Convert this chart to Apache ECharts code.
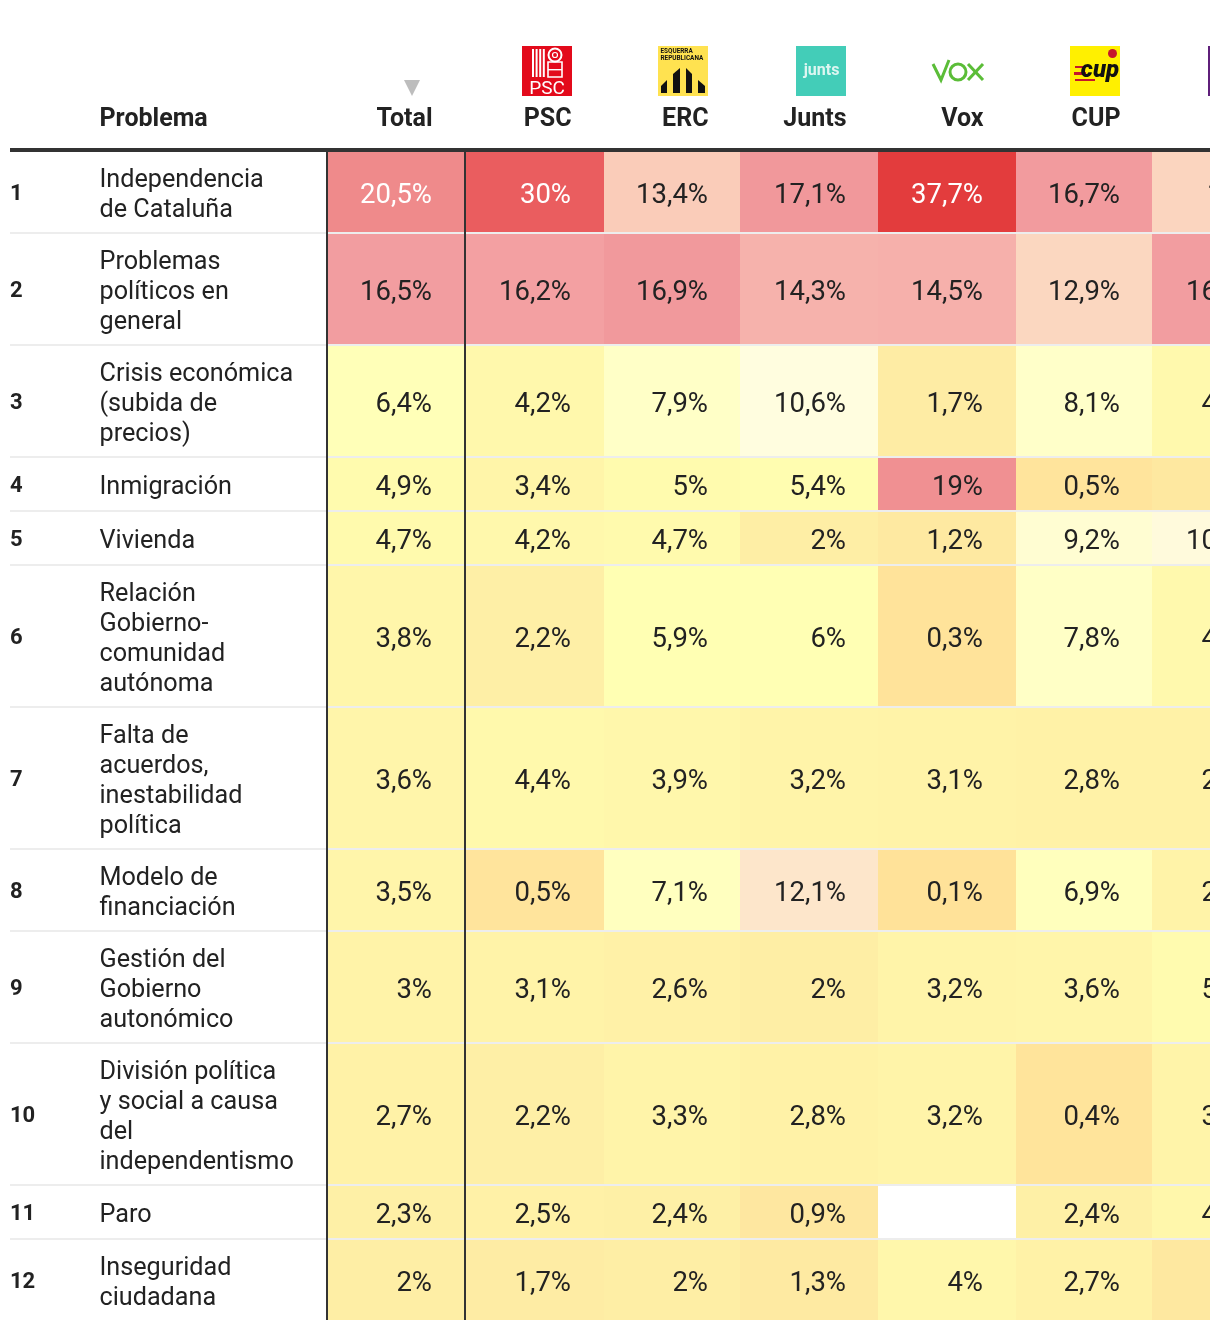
<!DOCTYPE html>
<html><head><meta charset="utf-8">
<style>html,body{margin:0;padding:0;background:#fff}#c{width:1220px;height:1332px}</style>
<script src="https://cdn.jsdelivr.net/npm/echarts@6/dist/echarts.min.js"></script>
</head><body><div id="c"></div>
<script>
// ---- data ----
const problems = ['Independencia\nde Cataluña','Problemas\npolíticos en\ngeneral','Crisis económica\n(subida de\nprecios)','Inmigración','Vivienda','Relación\nGobierno-\ncomunidad\nautónoma','Falta de\nacuerdos,\ninestabilidad\npolítica','Modelo de\nfinanciación','Gestión del\nGobierno\nautonómico','División política\ny social a causa\ndel\nindependentismo','Paro','Inseguridad\nciudadana'];
const columns = ['Total','PSC','ERC','Junts','Vox','CUP',''];
const total = [20.5,16.5,6.4,4.9,4.7,3.8,3.6,3.5,3,2.7,2.3,2];
const psc   = [30,16.2,4.2,3.4,4.2,2.2,4.4,0.5,3.1,2.2,2.5,1.7];
const erc   = [13.4,16.9,7.9,5,4.7,5.9,3.9,7.1,2.6,3.3,2.4,2];
const junts = [17.1,14.3,10.6,5.4,2,6,3.2,12.1,2,2.8,0.9,1.3];
const vox   = [37.7,14.5,1.7,19,1.2,0.3,3.1,0.1,3.2,3.2,null,4];
const cup   = [16.7,12.9,8.1,0.5,9.2,7.8,2.8,6.9,3.6,0.4,2.4,2.7];
const other = [13,16.5,4.5,1,10.8,4.5,2.8,2.9,5.1,3.2,4.1,1];
const tableValues = [total,psc,erc,junts,vox,cup,other];

// ---- colour scale: value -> colour ----
const scaleValues = [0,0.5,0.9,2,3,4,5,6,7.1,8,9.2,10.6,12.1,12.9,13.4,14.3,16.5,17,20.5,30,37.7];
const scaleColors = ['#FFE298','#FFE49C','#FEE7A0','#FEEEA5','#FFF3A8','#FFF7AB','#FFFBAE','#FFFFB4','#FFFFBF','#FFFFC8','#FFFDD2','#FFFDDF','#FDE6CB','#FBD7C0','#FACCB9','#F6B2AC','#F29DA0','#F1989B','#EF8A8B','#EA5D5F','#E33C3D'];

// ---- layout ----
const FONT = 'Roboto';
const INK = '#222';
const tableTop = 152;
const colEdges = [328,466,604,740,878,1016,1152,1290];
const colText  = [432,571,708,846,983,1120,1258];
const rowTops = [tableTop];
problems.forEach(p => {
  const lines = p.split('\n').length;
  rowTops.push(rowTops[rowTops.length-1] + Math.max(54, 30*lines + 22));
});
function colorOf(v){
  for(let i=1;i<scaleValues.length;i++){
    if(v<=scaleValues[i]){
      const t=(v-scaleValues[i-1])/(scaleValues[i]-scaleValues[i-1]);
      return echarts.color.lerp(t,[scaleColors[i-1],scaleColors[i]]);
    }
  }
  return scaleColors[scaleColors.length-1];
}
const cellData=[];
tableValues.forEach((arr,c)=>arr.forEach((v,r)=>cellData.push([c,r,v])));
const rowData = problems.map((p,i)=>[i,p]);
const fmt = v => String(v).replace('.',',')+'%';

const chart = echarts.init(document.getElementById('c'),null,{renderer:'canvas'});
chart.setOption({
  animation:false,
  backgroundColor:'#fff',
  grid:{left:0,top:0,width:1210,height:1332},
  xAxis:{type:'value',min:0,max:1210,show:false},
  yAxis:{type:'value',min:0,max:1332,inverse:true,show:false},
  series:[
    {type:'custom',clip:true,coordinateSystem:'cartesian2d',z:1,data:cellData,encode:{x:0,y:1},
     renderItem(params,api){
       const c=api.value(0), r=api.value(1), v=cellData[params.dataIndex][2];
       const a=api.coord([colEdges[c],rowTops[r]]), b=api.coord([colEdges[c+1],rowTops[r+1]-2]);
       const children=[];
       if(v!=null){
         children.push({type:'rect',shape:{x:a[0],y:a[1],width:b[0]-a[0],height:b[1]-a[1]},style:{fill:colorOf(v)}});
         children.push({type:'text',style:{text:fmt(v),x:api.coord([colText[c],0])[0],y:(a[1]+b[1])/2+4,align:'right',verticalAlign:'middle',font:'400 27.5px '+FONT,fill:v>=20?'#fff':INK}});
       }
       return {type:'group',children};
     }},
    {type:'custom',clip:true,coordinateSystem:'cartesian2d',z:2,data:rowData,encode:{x:0,y:0},
     renderItem(params,api){
       const r=params.dataIndex, p=problems[r];
       const top=rowTops[r], bot=rowTops[r+1];
       const left=api.coord([10,0])[0], right=api.coord([1210,0])[0];
       const yBot=api.coord([0,bot])[1], yC=api.coord([0,(top+bot-2)/2])[1];
       return {type:'group',children:[
         {type:'rect',shape:{x:left,y:yBot-2,width:right-left,height:2},style:{fill:'rgba(0,0,0,0.07)'},silent:true,ignore:r===problems.length-1},
         {type:'text',style:{text:String(r+1),x:left,y:yC+2.5,verticalAlign:'middle',font:'700 22px '+FONT,fill:INK}},
         {type:'text',style:{text:p,x:api.coord([99.5,0])[0],y:yC+3.5,verticalAlign:'middle',font:'400 25.2px '+FONT,lineHeight:30,fill:INK}}
       ]};
     }}
  ],
  graphic:[
    {type:'rect',z:10,shape:{x:10,y:148,width:1200,height:4},style:{fill:'#333'}},
    {type:'rect',z:10,shape:{x:326,y:152,width:2,height:1168},style:{fill:'#333'}},
    {type:'rect',z:10,shape:{x:464,y:152,width:2,height:1168},style:{fill:'#333'}},
    {type:'text',z:10,style:{text:'Problema',x:99.5,y:120,verticalAlign:'middle',font:'700 25px '+FONT,fill:INK}},
    ...columns.slice(0,6).map((t,i)=>({type:'text',z:10,style:{text:t,x:colText[i]+0.5,y:120,align:'right',verticalAlign:'middle',font:'700 25px '+FONT,fill:INK}})),
    {type:'polygon',z:10,shape:{points:[[404,80],[420,80],[412,96]]},style:{fill:'#bdbdbd'}},
    // PSC logo
    {type:'rect',z:10,shape:{x:522,y:46,width:50,height:50},style:{fill:'#E30A1B'}},
    ...[0,1,2,3].map(i=>({type:'rect',z:11,shape:{x:532+i*3.6,y:49,width:2,height:28},style:{fill:'#fff'}})),
    {type:'rect',z:11,shape:{x:548,y:62,width:14,height:15},style:{fill:'none',stroke:'#fff',lineWidth:1.6}},
    {type:'rect',z:11,shape:{x:548,y:69,width:14,height:1.4},style:{fill:'#fff'}},
    {type:'circle',z:11,shape:{cx:555,cy:55,r:6.5},style:{fill:'none',stroke:'#fff',lineWidth:2}},
    {type:'circle',z:11,shape:{cx:555,cy:55,r:2.5},style:{fill:'none',stroke:'#fff',lineWidth:1.2}},
    {type:'text',z:11,style:{text:'PSC',x:547,y:89,align:'center',verticalAlign:'middle',font:'400 19px '+FONT,fill:'#fff'}},
    // ERC logo
    {type:'rect',z:10,shape:{x:658,y:46,width:50,height:50},style:{fill:'#FFE250'}},
    {type:'text',z:11,style:{text:'ESQUERRA\nREPUBLICANA',x:660.5,y:55,verticalAlign:'middle',font:'700 6.4px '+FONT,lineHeight:7,fill:'#111'}},
    {type:'polygon',z:11,shape:{points:[[661,93],[661,86],[667,80],[667,93]]},style:{fill:'#111'}},
    {type:'polygon',z:11,shape:{points:[[673,93],[673,74],[680,68],[680,93]]},style:{fill:'#111'}},
    {type:'polygon',z:11,shape:{points:[[686,93],[686,68],[692,74],[692,93]]},style:{fill:'#111'}},
    {type:'polygon',z:11,shape:{points:[[698,93],[698,80],[705,86],[705,93]]},style:{fill:'#111'}},
    // Junts logo
    {type:'rect',z:10,shape:{x:796,y:46,width:50,height:50},style:{fill:'#43CDB8'}},
    {type:'text',z:11,style:{text:'junts',x:821.5,y:71,align:'center',verticalAlign:'middle',font:'700 16px '+FONT,fill:'#DDF6F1'}},
    // Vox logo
    {type:'polyline',z:10,shape:{points:[[933,64],[941,80],[949,60]]},style:{fill:'none',stroke:'#5BBD38',lineWidth:3}},
    {type:'circle',z:10,shape:{cx:958,cy:72,r:8},style:{fill:'none',stroke:'#5BBD38',lineWidth:3}},
    {type:'line',z:10,shape:{x1:968,y1:64,x2:983,y2:80},style:{stroke:'#5BBD38',lineWidth:3}},
    {type:'line',z:10,shape:{x1:983,y1:64,x2:968,y2:80},style:{stroke:'#5BBD38',lineWidth:3}},
    // CUP logo
    {type:'rect',z:10,shape:{x:1070,y:46,width:50,height:50},style:{fill:'#FFF000'}},
    {type:'circle',z:11,shape:{cx:1112.5,cy:53.5,r:4.5},style:{fill:'#C5162C'}},
    {type:'rect',z:11,shape:{x:1075,y:66,width:11,height:2},style:{fill:'#C5162C'}},
    {type:'rect',z:11,shape:{x:1074,y:72,width:12,height:3},style:{fill:'#C5162C'}},
    {type:'rect',z:11,shape:{x:1075,y:79,width:20,height:2},style:{fill:'#C5162C'}},
    {type:'text',z:11,style:{text:'cup',x:1100,y:71,align:'center',verticalAlign:'middle',font:'italic 900 24px '+FONT,fill:'#111'}},
    // next logo, clipped by the page crop
    {type:'rect',z:10,shape:{x:1208,y:46,width:2,height:50},style:{fill:'#5F1F7A'}}
  ]
});
</script></body></html>
